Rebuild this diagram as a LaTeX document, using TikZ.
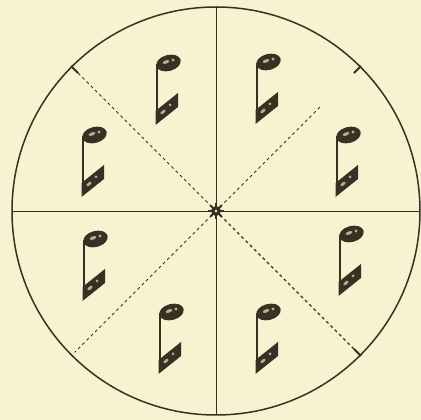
\documentclass[tikz,border=0pt]{standalone}
\definecolor{paper}{RGB}{249,242,208}
\definecolor{ink}{RGB}{55,49,36}
\begin{document}
\begin{tikzpicture}[x=1pt,y=1pt,
    rim/.style={ink, line width=1.5pt},
    axis/.style={ink, line width=0.9pt},
    spoke/.style={ink, line width=1pt, dash pattern=on 3pt off 3pt},
    stem/.style={ink, line width=1.6pt},
    head/.style={fill=ink},
    speck/.style={fill=ink!35!paper}]

    % Paper
\fill[paper] (0,0) rectangle (421,420);
\coordinate (O) at (216,209);

% Rim
\draw[rim] (O) circle (204);

% Axes
\draw[axis] (O) -- ++(90:204);
\draw[axis] (O) -- ++(-90:204);
\draw[axis] (O) -- ++(180:204);
\draw[axis] (O) -- ++(0:204);

% Dashed spokes
\draw[spoke] (O) -- ++(135:204);
\draw[spoke, line width=1.3pt] (O) -- ++(-45:204);
\draw[spoke, line width=0.8pt] (O) -- ++(45:150);
\draw[spoke, line width=0.8pt] (O) -- ++(225:200);

% Ticks on the rim
\foreach \a in {135,-45,45}
    \draw[ink, line width=1.8pt] ([shift={(\a:195)}]O) -- ([shift={(\a:205)}]O);

% Centre star
\foreach \a in {0,45,...,315}
    \draw[ink, line width=2pt] (O) -- ++(\a:8);
\fill[ink] (O) circle (5);
\fill[paper] (O) circle (1.4);

% Notes
\foreach \nx/\ny in {157/299, 257/300, 83/227, 337/227, 84/123, 340/128, 160/50, 257/50}{
    \begin{scope}[shift={(\nx,\ny)}]
        \draw[stem] (0,-1) -- (0,57);
        \fill[head, rotate around={15:(11.5,58)}] (11.5,58) ellipse (12.5 and 8);
        \fill[head] (-1.5,-4) -- (-1.5,10) -- (21,28) -- (21,14) -- cycle;
        \fill[speck, rotate around={20:(9,59)}] (9,59) ellipse (3.5 and 1.6);
        \fill[speck] (16,61) circle (1.6);
        \fill[speck, rotate around={40:(6,9)}] (6,9) ellipse (3 and 1.5);
        \fill[speck] (13,16) circle (1.5);
    \end{scope}
}

\end{tikzpicture}
\end{document}
